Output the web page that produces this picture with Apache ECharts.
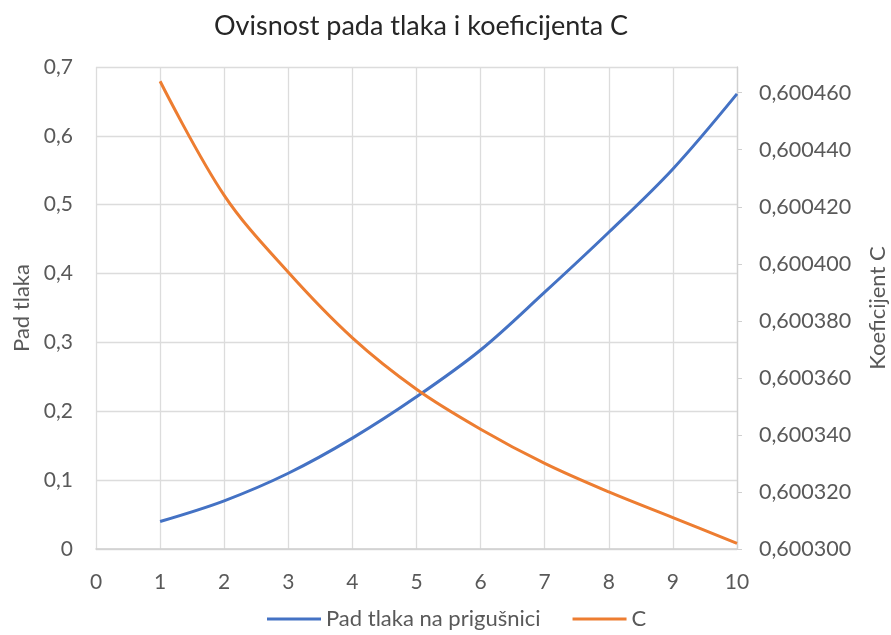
<!DOCTYPE html>
<html>
<head>
<meta charset="utf-8">
<script src="https://cdn.jsdelivr.net/npm/echarts@6/dist/echarts.min.js"></script>
<style>html,body{margin:0;padding:0;background:#fff}#c{width:891px;height:635px}</style>
</head>
<body>
<div id="c"></div>
<script>
const xValues = [1, 2, 3, 4, 5, 6, 7, 8, 9, 10];
const padTlaka = [0.040, 0.070, 0.110, 0.161, 0.221, 0.289, 0.373, 0.460, 0.552, 0.661];
const koefC = [0.600464, 0.600424, 0.600397, 0.600374, 0.600356, 0.600342, 0.600330, 0.600320, 0.600311, 0.600302];
const titleText = 'Ovisnost pada tlaka i koeficijenta C';
const seriesNames = ['Pad tlaka na prigušnici', 'C'];
const leftAxisName = 'Pad tlaka';
const rightAxisName = 'Koeficijent C';

const FONT = 'Lato, "Open Sans", sans-serif';
const chart = echarts.init(document.getElementById('c'), null, {renderer: 'canvas'});
const comma = s => String(s).replace('.', ',');
chart.setOption({
  animation: false,
  title: {
    text: titleText, left: 209, top: 8,
    textStyle: {fontFamily: FONT, fontSize: 27, fontWeight: 'normal', color: '#262626'}
  },
  legend: {
    top: 603, left: 262, itemWidth: 54, itemHeight: 3, itemGap: 32,
    icon: 'rect',
    textStyle: {fontFamily: FONT, fontSize: 22, color: '#595959'},
    data: seriesNames
  },
  grid: {left: 96, right: 154, top: 67, bottom: 86, containLabel: false, outerBoundsMode: 'none'},
  xAxis: {
    type: 'value', min: 0, max: 10, interval: 1,
    axisLine: {show: true, lineStyle: {color: '#d0d0d0', width: 1.5}},
    axisTick: {show: false},
    axisLabel: {fontFamily: FONT, fontSize: 21, color: '#595959', margin: 23},
    splitLine: {show: true, lineStyle: {color: '#dcdcdc', width: 1.3}}
  },
  yAxis: [{
    type: 'value', min: 0, max: 0.7, interval: 0.1,
    name: leftAxisName, nameLocation: 'middle', nameGap: 63, nameRotate: 90,
    nameTextStyle: {fontFamily: FONT, fontSize: 22, color: '#595959'},
    axisLine: {show: false}, axisTick: {show: false},
    axisLabel: {fontFamily: FONT, fontSize: 21, color: '#595959', margin: 23,
      formatter: v => comma(Math.round(v * 10) / 10)},
    splitLine: {show: true, lineStyle: {color: '#dcdcdc', width: 1.3}}
  }, {
    type: 'value', min: 0.6003, max: 0.600469, interval: 0.00002,
    name: rightAxisName, nameLocation: 'middle', nameGap: 130, nameRotate: 90,
    nameTextStyle: {fontFamily: FONT, fontSize: 22, color: '#595959'},
    axisLine: {show: true, lineStyle: {color: '#d0d0d0', width: 1.3}},
    axisTick: {show: true, length: 5, inside: false, lineStyle: {color: '#d0d0d0'}},
    axisLabel: {fontFamily: FONT, fontSize: 21.5, color: '#595959', margin: 22, showMaxLabel: false,
      formatter: v => comma(v.toFixed(6))},
    splitLine: {show: false}
  }],
  series: [{
    name: seriesNames[0], type: 'line', yAxisIndex: 0, smooth: 0.35,
    showSymbol: false, symbol: 'none',
    lineStyle: {color: '#4472C4', width: 3}, itemStyle: {color: '#4472C4'},
    data: xValues.map((x, i) => [x, padTlaka[i]])
  }, {
    name: seriesNames[1], type: 'line', yAxisIndex: 1, smooth: 0.35,
    showSymbol: false, symbol: 'none',
    lineStyle: {color: '#ED7D31', width: 3}, itemStyle: {color: '#ED7D31'},
    data: xValues.map((x, i) => [x, koefC[i]])
  }]
});
</script>
</body>
</html>
